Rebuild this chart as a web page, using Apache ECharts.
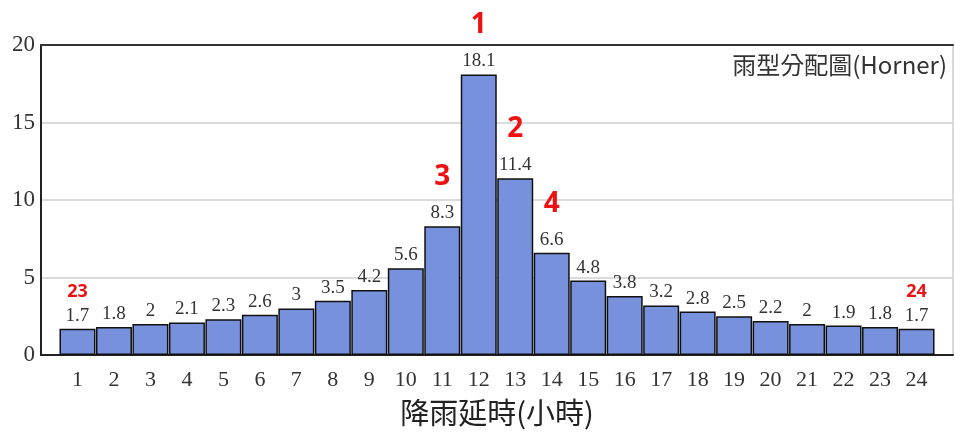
<!DOCTYPE html>
<html>
<head>
<meta charset="utf-8">
<script src="https://cdn.jsdelivr.net/npm/echarts@6/dist/echarts.min.js"></script>
<style>
  html, body { margin: 0; padding: 0; background: #fff; }
  #chart { width: 955px; height: 432px; }
</style>
</head>
<body>
<div id="chart"></div>
<script>
// Rainfall duration (hours) and Horner design-storm distribution (%)
const hours = [1, 2, 3, 4, 5, 6, 7, 8, 9, 10, 11, 12, 13, 14, 15, 16, 17, 18, 19, 20, 21, 22, 23, 24];
const rainShare = [1.7, 1.8, 2, 2.1, 2.3, 2.6, 3, 3.5, 4.2, 5.6, 8.3, 18.1, 11.4, 6.6, 4.8, 3.8, 3.2, 2.8, 2.5, 2.2, 2, 1.9, 1.8, 1.7];
// Rank of selected hours (hour -> rank)
const rankHours = [12, 13, 11, 14, 1, 24];
const rankValues = [1, 2, 3, 4, 23, 24];
const yTicks = [0, 5, 10, 15, 20];

const serif = '"Liberation Serif", "DejaVu Serif", serif';
const cjk = '"Noto Sans CJK TC", sans-serif';
const rankOf = {};
rankHours.forEach((h, i) => { rankOf[h] = rankValues[i]; });

const barData = hours.map((h, i) => [h, rainShare[i]]);

const chart = echarts.init(document.getElementById('chart'));
chart.setOption({
  animation: false,
  backgroundColor: '#fff',
  title: {
    text: '雨型分配圖(Horner)',
    right: 3,
    top: 48,
    textStyle: { fontFamily: cjk, fontSize: 24, fontWeight: 'normal', color: '#333' }
  },
  grid: { left: 41, right: 2, top: 45, bottom: 77, containLabel: false, outerBoundsMode: 'none' },
  xAxis: [{
    type: 'value',
    min: 0,
    max: 25,
    interval: 1,
    name: '降雨延時(小時)',
    nameLocation: 'middle',
    nameGap: 43,
    nameTextStyle: { fontFamily: cjk, fontSize: 29, color: '#222' },
    axisLine: { show: true, onZero: false, lineStyle: { color: '#222', width: 2 } },
    axisTick: { show: false },
    splitLine: { show: false },
    axisLabel: {
      margin: 14,
      fontFamily: serif,
      fontSize: 22,
      color: '#333',
      formatter: v => (v >= 1 && v <= 24 ? String(v) : '')
    }
  }, {
    type: 'value',
    position: 'top',
    min: 0,
    max: 25,
    axisLine: { show: true, onZero: false, lineStyle: { color: '#333', width: 2 } },
    axisTick: { show: false },
    axisLabel: { show: false },
    splitLine: { show: false }
  }],
  yAxis: [{
    type: 'value',
    min: 0,
    max: 20,
    interval: 5,
    axisLine: { show: true, onZero: false, lineStyle: { color: '#222', width: 2 } },
    axisTick: { show: false },
    axisLabel: {
      margin: 6,
      fontFamily: serif,
      fontSize: 23,
      color: '#333',
      formatter: v => (yTicks.includes(v) ? String(v) : '')
    },
    splitLine: { show: true, lineStyle: { color: '#cfcfcf', width: 1.5 } }
  }, {
    type: 'value',
    position: 'right',
    min: 0,
    max: 20,
    axisLine: { show: true, onZero: false, lineStyle: { color: '#cfcfcf', width: 1.5 } },
    axisTick: { show: false },
    axisLabel: { show: false },
    splitLine: { show: false }
  }],
  series: [{
    type: 'bar',
    data: barData,
    barWidth: 36,
    itemStyle: { color: '#7891dc', borderColor: '#111', borderWidth: 1.5 },
    label: {
      show: true,
      position: 'top',
      distance: 3,
      formatter: p => {
        const h = p.value[0];
        const v = p.value[1];
        const r = rankOf[h];
        if (r === undefined) return '{v|' + v + '}';
        return (r > 9 ? '{s|' + r + '}' : '{r|' + r + '}') + '\n{v|' + v + '}';
      },
      rich: {
        v: { fontFamily: serif, fontSize: 19, color: '#333', lineHeight: 20 },
        r: { fontFamily: '"Noto Sans", sans-serif', fontSize: 28, fontWeight: 'bold', color: '#ee1111', lineHeight: 52 },
        s: { fontFamily: '"Noto Sans", sans-serif', fontSize: 18, fontWeight: 'bold', color: '#ee1111', lineHeight: 28 }
      }
    }
  }]
});
</script>
</body>
</html>
